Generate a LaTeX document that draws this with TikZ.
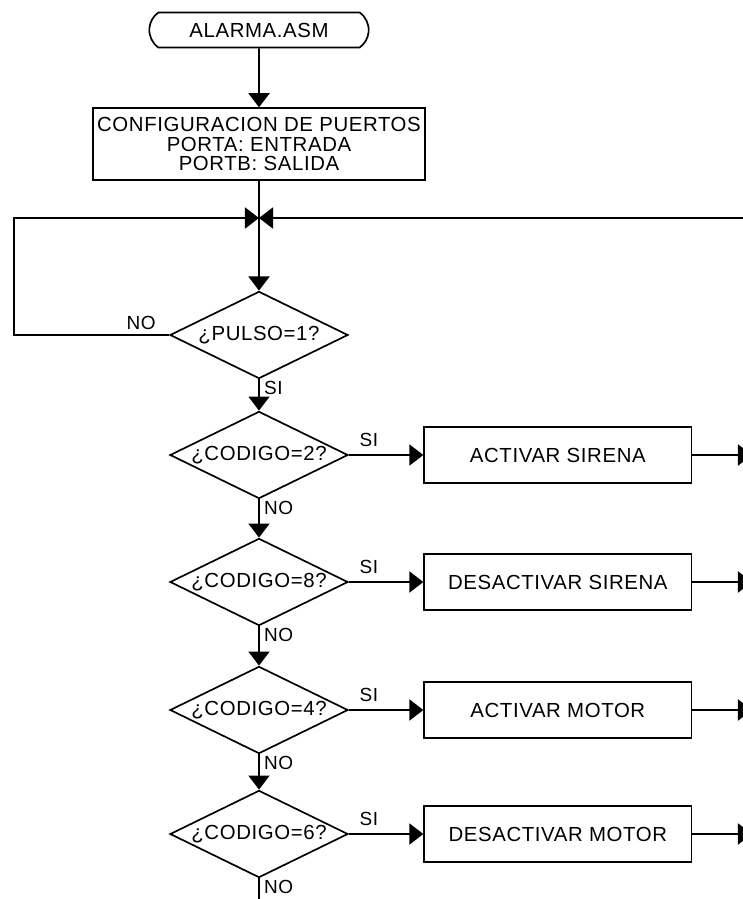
\documentclass[tikz,border=0pt]{standalone}
\usepackage{fontspec}
\setmainfont[LetterSpace=3]{Liberation Sans}
\usetikzlibrary{arrows.meta, positioning, shapes.geometric, shapes.misc}

\begin{document}
\begin{tikzpicture}[
    x=0.025cm, y=-0.025cm,
    font=\fontsize{14.5}{14}\selectfont,
    line width=1.2pt,
    node distance=53pt,
    inicio/.style={draw, rounded rectangle, rounded rectangle arc length=110,
                   minimum width=160pt, minimum height=25pt, inner sep=2pt},
    proceso/.style={draw, align=center, minimum width=190pt,
                    minimum height=40pt, inner sep=2pt},
    decision/.style={draw, diamond, aspect=2, inner sep=0pt,
                     minimum width=126.6pt, minimum height=62pt},
    flecha/.style={-{Triangle[width=15pt,length=10pt]}},
    etq/.style={font=\fontsize{13.5}{14}\selectfont, inner sep=0pt}
  ]
  \useasboundingbox (0,0) rectangle (742,899);

  \node[inicio] (alarma) at (259,30) {ALARMA.ASM};
  \node[proceso, minimum width=236pt, minimum height=51pt] (config) at (259,144)
    {CONFIGURACION DE PUERTOS\\PORTA: ENTRADA\\PORTB: SALIDA};
  \coordinate (union) at (259,218);
  \coordinate (lazo) at (14,218);
  \coordinate (retorno) at (752,218);

  \node[decision] (pulso) at (259,335) {¿PULSO=1?};
  \node[decision] (cod2) at (259,455) {¿CODIGO=2?};
  \node[decision] (cod8) at (259,582) {¿CODIGO=8?};
  \node[decision] (cod4) at (259,710) {¿CODIGO=4?};
  \node[decision] (cod6) at (259,834) {¿CODIGO=6?};
  \coordinate (sigue) at (259,910);

  \node[proceso, right=of cod2] (actsir) {ACTIVAR SIRENA};
  \node[proceso, right=of cod8] (dessir) {DESACTIVAR SIRENA};
  \node[proceso, right=of cod4] (actmot) {ACTIVAR MOTOR};
  \node[proceso, right=of cod6] (desmot) {DESACTIVAR MOTOR};

  % etiquetas
  \node[etq, above left=3pt and 9pt of pulso.west] (noP) {NO};
  \node[etq, below right=1pt and 3pt of pulso.south] (siP) {SI};
  \node[etq, above right=5pt and 7pt of cod2.east] (si2) {SI};
  \node[etq, below right=1pt and 3pt of cod2.south] (no2) {NO};
  \node[etq, above right=5pt and 7pt of cod8.east] (si8) {SI};
  \node[etq, below right=1pt and 3pt of cod8.south] (no8) {NO};
  \node[etq, above right=5pt and 7pt of cod4.east] (si4) {SI};
  \node[etq, below right=1pt and 3pt of cod4.south] (no4) {NO};
  \node[etq, above right=5pt and 7pt of cod6.east] (si6) {SI};
  \node[etq, below right=1pt and 3pt of cod6.south] (no6) {NO};

  \draw[flecha] (alarma) -- (config);
  \draw (config) -- (union);
  \draw[flecha] (union) -- (pulso);
  \draw[flecha] (pulso.west) -| (lazo) -- (union);
  \draw[flecha] (retorno) -- (union);

  \draw[flecha] (pulso) -- (cod2);
  \draw[flecha] (cod2) -- (cod8);
  \draw[flecha] (cod8) -- (cod4);
  \draw[flecha] (cod4) -- (cod6);
  \draw (cod6) -- (sigue);

  \draw[flecha] (cod2) -- (actsir);
  \draw[flecha] (cod8) -- (dessir);
  \draw[flecha] (cod4) -- (actmot);
  \draw[flecha] (cod6) -- (desmot);

  \draw[flecha] (actsir) -- (actsir -| retorno);
  \draw[flecha] (dessir) -- (dessir -| retorno);
  \draw[flecha] (actmot) -- (actmot -| retorno);
  \draw[flecha] (desmot) -- (desmot -| retorno);
\end{tikzpicture}
\end{document}
